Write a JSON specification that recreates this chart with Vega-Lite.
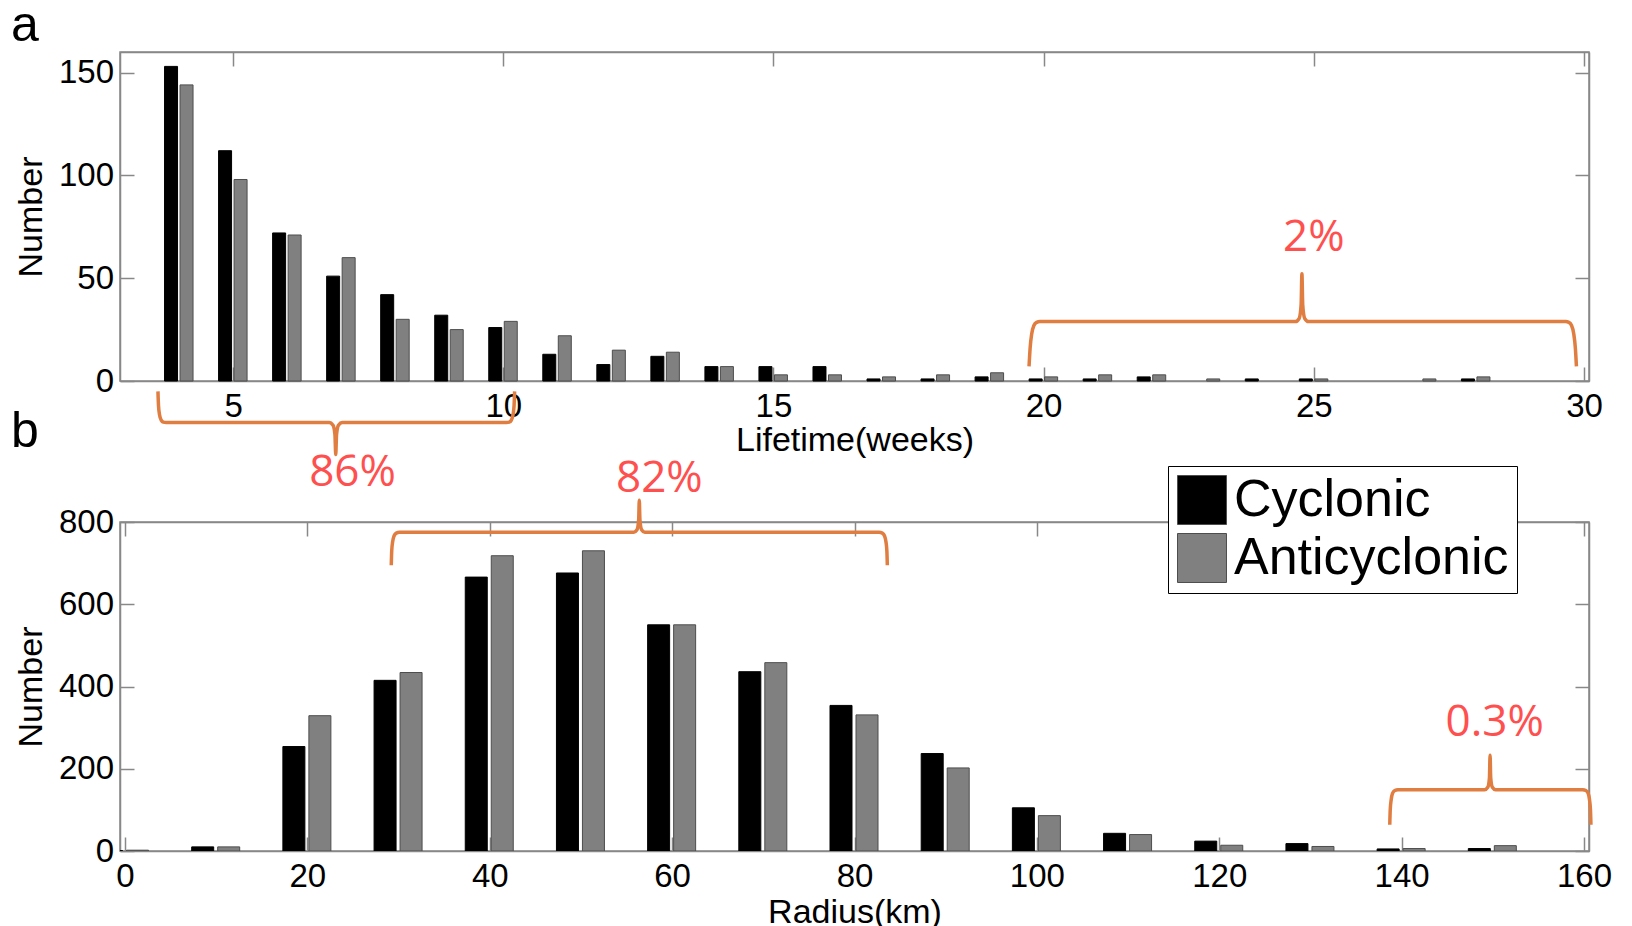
{
  "$schema": "https://vega.github.io/schema/vega-lite/v6.json",
  "padding": {"left": 10, "top": 0, "right": 5, "bottom": 5},
  "background": "white",
  "config": {
    "font": "Liberation Sans",
    "view": {"stroke": "#888888", "strokeWidth": 1.5},
    "axis": {
      "domainColor": "#888888", "domainWidth": 1.5, "tickColor": "#888888", "tickWidth": 1.5,
      "tickSize": -14, "labelColor": "#000000", "titleColor": "#000000",
      "labelFontSize": 33, "titleFontSize": 34, "titleFontWeight": "normal",
      "grid": false, "labelFlush": false, "labelOverlap": false
    },
    "axisX": {"labelPadding": 23.5, "titlePadding": 1},
    "axisY": {"labelPadding": 20.5, "titlePadding": 9.5},
    "title": {"fontSize": 50, "fontWeight": "normal", "anchor": "start", "color": "#000000", "font": "Liberation Sans"}
  },
  "datasets": {
    "lifetime": [
      {"week": 4, "type": "Cyclonic", "n": 153}, {"week": 4, "type": "Anticyclonic", "n": 144},
      {"week": 5, "type": "Cyclonic", "n": 112}, {"week": 5, "type": "Anticyclonic", "n": 98},
      {"week": 6, "type": "Cyclonic", "n": 72}, {"week": 6, "type": "Anticyclonic", "n": 71},
      {"week": 7, "type": "Cyclonic", "n": 51}, {"week": 7, "type": "Anticyclonic", "n": 60},
      {"week": 8, "type": "Cyclonic", "n": 42}, {"week": 8, "type": "Anticyclonic", "n": 30},
      {"week": 9, "type": "Cyclonic", "n": 32}, {"week": 9, "type": "Anticyclonic", "n": 25},
      {"week": 10, "type": "Cyclonic", "n": 26}, {"week": 10, "type": "Anticyclonic", "n": 29},
      {"week": 11, "type": "Cyclonic", "n": 13}, {"week": 11, "type": "Anticyclonic", "n": 22},
      {"week": 12, "type": "Cyclonic", "n": 8}, {"week": 12, "type": "Anticyclonic", "n": 15},
      {"week": 13, "type": "Cyclonic", "n": 12}, {"week": 13, "type": "Anticyclonic", "n": 14},
      {"week": 14, "type": "Cyclonic", "n": 7}, {"week": 14, "type": "Anticyclonic", "n": 7},
      {"week": 15, "type": "Cyclonic", "n": 7}, {"week": 15, "type": "Anticyclonic", "n": 3},
      {"week": 16, "type": "Cyclonic", "n": 7}, {"week": 16, "type": "Anticyclonic", "n": 3},
      {"week": 17, "type": "Cyclonic", "n": 1}, {"week": 17, "type": "Anticyclonic", "n": 2},
      {"week": 18, "type": "Cyclonic", "n": 1}, {"week": 18, "type": "Anticyclonic", "n": 3},
      {"week": 19, "type": "Cyclonic", "n": 2}, {"week": 19, "type": "Anticyclonic", "n": 4},
      {"week": 20, "type": "Cyclonic", "n": 1}, {"week": 20, "type": "Anticyclonic", "n": 2},
      {"week": 21, "type": "Cyclonic", "n": 1}, {"week": 21, "type": "Anticyclonic", "n": 3},
      {"week": 22, "type": "Cyclonic", "n": 2}, {"week": 22, "type": "Anticyclonic", "n": 3},
      {"week": 23, "type": "Anticyclonic", "n": 1},
      {"week": 24, "type": "Cyclonic", "n": 1},
      {"week": 25, "type": "Cyclonic", "n": 1}, {"week": 25, "type": "Anticyclonic", "n": 1},
      {"week": 27, "type": "Anticyclonic", "n": 1},
      {"week": 28, "type": "Cyclonic", "n": 1}, {"week": 28, "type": "Anticyclonic", "n": 2}
    ],
    "radius": [
      {"r": 0, "type": "Cyclonic", "n": 1}, {"r": 0, "type": "Anticyclonic", "n": 2},
      {"r": 10, "type": "Cyclonic", "n": 10}, {"r": 10, "type": "Anticyclonic", "n": 10},
      {"r": 20, "type": "Cyclonic", "n": 254}, {"r": 20, "type": "Anticyclonic", "n": 329},
      {"r": 30, "type": "Cyclonic", "n": 415}, {"r": 30, "type": "Anticyclonic", "n": 434},
      {"r": 40, "type": "Cyclonic", "n": 666}, {"r": 40, "type": "Anticyclonic", "n": 718},
      {"r": 50, "type": "Cyclonic", "n": 676}, {"r": 50, "type": "Anticyclonic", "n": 730},
      {"r": 60, "type": "Cyclonic", "n": 550}, {"r": 60, "type": "Anticyclonic", "n": 550},
      {"r": 70, "type": "Cyclonic", "n": 436}, {"r": 70, "type": "Anticyclonic", "n": 458},
      {"r": 80, "type": "Cyclonic", "n": 354}, {"r": 80, "type": "Anticyclonic", "n": 331},
      {"r": 90, "type": "Cyclonic", "n": 237}, {"r": 90, "type": "Anticyclonic", "n": 202},
      {"r": 100, "type": "Cyclonic", "n": 105}, {"r": 100, "type": "Anticyclonic", "n": 86},
      {"r": 110, "type": "Cyclonic", "n": 43}, {"r": 110, "type": "Anticyclonic", "n": 40},
      {"r": 120, "type": "Cyclonic", "n": 24}, {"r": 120, "type": "Anticyclonic", "n": 14},
      {"r": 130, "type": "Cyclonic", "n": 18}, {"r": 130, "type": "Anticyclonic", "n": 11},
      {"r": 140, "type": "Cyclonic", "n": 5}, {"r": 140, "type": "Anticyclonic", "n": 6},
      {"r": 150, "type": "Cyclonic", "n": 6}, {"r": 150, "type": "Anticyclonic", "n": 13}
    ],
    "bracesA": [
      {"b": "top", "i": 1, "x": 19.73, "y": 7.1},
      {"b": "top", "i": 2, "x": 19.75, "y": 16},
      {"b": "top", "i": 3, "x": 19.78, "y": 23},
      {"b": "top", "i": 4, "x": 19.82, "y": 27},
      {"b": "top", "i": 5, "x": 19.87, "y": 28.5},
      {"b": "top", "i": 6, "x": 19.93, "y": 28.9},
      {"b": "top", "i": 7, "x": 24.66, "y": 28.9},
      {"b": "top", "i": 8, "x": 24.73, "y": 30.5},
      {"b": "top", "i": 9, "x": 24.765, "y": 37},
      {"b": "top", "i": 10, "x": 24.78, "y": 52.2},
      {"b": "top", "i": 11, "x": 24.795, "y": 37},
      {"b": "top", "i": 12, "x": 24.83, "y": 30.5},
      {"b": "top", "i": 13, "x": 24.9, "y": 28.9},
      {"b": "top", "i": 14, "x": 29.66, "y": 28.9},
      {"b": "top", "i": 15, "x": 29.72, "y": 28.5},
      {"b": "top", "i": 16, "x": 29.77, "y": 27},
      {"b": "top", "i": 17, "x": 29.81, "y": 23},
      {"b": "top", "i": 18, "x": 29.84, "y": 16},
      {"b": "top", "i": 19, "x": 29.86, "y": 7.1},
      {"b": "bottom", "i": 1, "x": 3.61, "y": -5.07},
      {"b": "bottom", "i": 2, "x": 3.62, "y": -12},
      {"b": "bottom", "i": 3, "x": 3.64, "y": -16.5},
      {"b": "bottom", "i": 4, "x": 3.67, "y": -19},
      {"b": "bottom", "i": 5, "x": 3.71, "y": -20},
      {"b": "bottom", "i": 6, "x": 3.76, "y": -20.2},
      {"b": "bottom", "i": 7, "x": 6.78, "y": -20.2},
      {"b": "bottom", "i": 8, "x": 6.85, "y": -21.5},
      {"b": "bottom", "i": 9, "x": 6.885, "y": -26},
      {"b": "bottom", "i": 10, "x": 6.9, "y": -35.8},
      {"b": "bottom", "i": 11, "x": 6.915, "y": -26},
      {"b": "bottom", "i": 12, "x": 6.95, "y": -21.5},
      {"b": "bottom", "i": 13, "x": 7.02, "y": -20.2},
      {"b": "bottom", "i": 14, "x": 10.06, "y": -20.2},
      {"b": "bottom", "i": 15, "x": 10.11, "y": -20},
      {"b": "bottom", "i": 16, "x": 10.15, "y": -19},
      {"b": "bottom", "i": 17, "x": 10.18, "y": -16.5},
      {"b": "bottom", "i": 18, "x": 10.2, "y": -12},
      {"b": "bottom", "i": 19, "x": 10.21, "y": -5.07}
    ],
    "bracesB": [
      {"b": "mid", "i": 1, "x": 29.2, "y": 695},
      {"b": "mid", "i": 2, "x": 29.25, "y": 730},
      {"b": "mid", "i": 3, "x": 29.35, "y": 752},
      {"b": "mid", "i": 4, "x": 29.5, "y": 766},
      {"b": "mid", "i": 5, "x": 29.75, "y": 773},
      {"b": "mid", "i": 6, "x": 30.1, "y": 775},
      {"b": "mid", "i": 7, "x": 55.8, "y": 775},
      {"b": "mid", "i": 8, "x": 56.15, "y": 781},
      {"b": "mid", "i": 9, "x": 56.33, "y": 805},
      {"b": "mid", "i": 10, "x": 56.4, "y": 853},
      {"b": "mid", "i": 11, "x": 56.47, "y": 805},
      {"b": "mid", "i": 12, "x": 56.65, "y": 781},
      {"b": "mid", "i": 13, "x": 57.0, "y": 775},
      {"b": "mid", "i": 14, "x": 82.7, "y": 775},
      {"b": "mid", "i": 15, "x": 83.05, "y": 773},
      {"b": "mid", "i": 16, "x": 83.3, "y": 766},
      {"b": "mid", "i": 17, "x": 83.45, "y": 752},
      {"b": "mid", "i": 18, "x": 83.55, "y": 730},
      {"b": "mid", "i": 19, "x": 83.6, "y": 695},
      {"b": "right", "i": 1, "x": 138.7, "y": 64},
      {"b": "right", "i": 2, "x": 138.75, "y": 100},
      {"b": "right", "i": 3, "x": 138.85, "y": 124},
      {"b": "right", "i": 4, "x": 139.0, "y": 140},
      {"b": "right", "i": 5, "x": 139.25, "y": 147},
      {"b": "right", "i": 6, "x": 139.6, "y": 149},
      {"b": "right", "i": 7, "x": 149.1, "y": 149},
      {"b": "right", "i": 8, "x": 149.45, "y": 155},
      {"b": "right", "i": 9, "x": 149.63, "y": 178},
      {"b": "right", "i": 10, "x": 149.7, "y": 233},
      {"b": "right", "i": 11, "x": 149.77, "y": 178},
      {"b": "right", "i": 12, "x": 149.95, "y": 155},
      {"b": "right", "i": 13, "x": 150.3, "y": 149},
      {"b": "right", "i": 14, "x": 159.86, "y": 149},
      {"b": "right", "i": 15, "x": 160.21, "y": 147},
      {"b": "right", "i": 16, "x": 160.46, "y": 140},
      {"b": "right", "i": 17, "x": 160.61, "y": 124},
      {"b": "right", "i": 18, "x": 160.71, "y": 100},
      {"b": "right", "i": 19, "x": 160.76, "y": 64}
    ],
    "textA": [
      {"x": 25.0, "y": 69.4, "label": "2%"},
      {"x": 7.21, "y": -44.9, "label": "86%"}
    ],
    "textB": [
      {"x": 58.6, "y": 904, "label": "82%"},
      {"x": 150.2, "y": 312, "label": "0.3%"}
    ]
  },
  "vconcat": [
    {
      "width": 1469,
      "height": 329,
      "title": {"text": "a", "frame": "group", "dx": -109, "offset": 0},
      "layer": [
        {
          "data": {"name": "lifetime"},
          "transform": [{"filter": "datum.type === 'Cyclonic'"}],
          "mark": {"type": "bar", "width": 13, "xOffset": -8, "stroke": "#000000", "strokeWidth": 1},
          "encoding": {
            "x": {"field": "week", "type": "quantitative", "scale": {"domain": [3, 30], "nice": false},
                  "axis": {"title": "Lifetime(weeks)", "values": [5, 10, 15, 20, 25, 30], "orient": "bottom", "titlePadding": 0}},
            "y": {"field": "n", "type": "quantitative", "scale": {"domain": [0, 160], "nice": false},
                  "axis": {"title": "Number", "values": [0, 50, 100, 150], "orient": "left"}},
            "color": {"field": "type", "type": "nominal",
                      "scale": {"domain": ["Cyclonic", "Anticyclonic"], "range": ["#000000", "#808080"]}, "legend": null}
          }
        },
        {
          "data": {"name": "lifetime"},
          "transform": [{"filter": "datum.type === 'Anticyclonic'"}],
          "mark": {"type": "bar", "width": 13, "xOffset": 7.5, "stroke": "#4d4d4d", "strokeWidth": 1},
          "encoding": {
            "x": {"field": "week", "type": "quantitative", "axis": null},
            "y": {"field": "n", "type": "quantitative", "axis": null},
            "color": {"field": "type", "type": "nominal", "legend": null}
          }
        },
        {
          "data": {"name": "bracesA"},
          "mark": {"type": "line", "color": "#e07d40", "strokeWidth": 3.5, "interpolate": "monotone", "clip": false},
          "encoding": {
            "x": {"field": "x", "type": "quantitative",
                  "axis": {"orient": "top", "labels": false, "title": null, "values": [5, 10, 15, 20, 25, 30]}},
            "y": {"field": "y", "type": "quantitative",
                  "axis": {"orient": "right", "labels": false, "title": null, "values": [0, 50, 100, 150]}},
            "detail": {"field": "b", "type": "nominal"},
            "order": {"field": "i", "type": "quantitative"}
          }
        },
        {
          "data": {"name": "textA"},
          "mark": {"type": "text", "color": "#ff5050", "font": "Open Sans", "fontSize": 44, "baseline": "middle", "align": "center", "clip": false},
          "encoding": {
            "x": {"field": "x", "type": "quantitative", "axis": null},
            "y": {"field": "y", "type": "quantitative", "axis": null},
            "text": {"field": "label", "type": "nominal"}
          }
        }
      ],
      "resolve": {"axis": {"x": "independent", "y": "independent"}}
    },
    {
      "width": 1469,
      "height": 329,
      "title": {"text": "b", "frame": "group", "dx": -109, "offset": 0},
      "layer": [
        {
          "data": {"name": "radius"},
          "transform": [{"filter": "datum.type === 'Cyclonic'"}],
          "mark": {"type": "bar", "width": 22, "xOffset": -13.5, "stroke": "#000000", "strokeWidth": 1, "clip": true},
          "encoding": {
            "x": {"field": "r", "type": "quantitative", "scale": {"domain": [0, 160], "nice": false},
                  "axis": {"title": "Radius(km)", "values": [0, 20, 40, 60, 80, 100, 120, 140, 160], "orient": "bottom", "titlePadding": 2}},
            "y": {"field": "n", "type": "quantitative", "scale": {"domain": [0, 800], "nice": false},
                  "axis": {"title": "Number", "values": [0, 200, 400, 600, 800], "orient": "left"}},
            "color": {"field": "type", "type": "nominal",
                      "scale": {"domain": ["Cyclonic", "Anticyclonic"], "range": ["#000000", "#808080"]},
                      "legend": {"orient": "none", "legendX": 1048, "legendY": -56, "title": null,
                                 "symbolType": "square", "symbolSize": 2400, "labelFontSize": 52,
                                 "labelFont": "Liberation Sans", "labelColor": "#000000", "labelLimit": 500,
                                 "strokeColor": "#000000", "fillColor": "#ffffff", "padding": 8,
                                 "rowPadding": 4, "labelOffset": 6, "symbolStrokeColor": "#333333",
                                 "symbolStrokeWidth": 1, "symbolOpacity": 1}}
          }
        },
        {
          "data": {"name": "radius"},
          "transform": [{"filter": "datum.type === 'Anticyclonic'"}],
          "mark": {"type": "bar", "width": 22, "xOffset": 12.5, "stroke": "#4d4d4d", "strokeWidth": 1, "clip": true},
          "encoding": {
            "x": {"field": "r", "type": "quantitative", "axis": null},
            "y": {"field": "n", "type": "quantitative", "axis": null},
            "color": {"field": "type", "type": "nominal"}
          }
        },
        {
          "data": {"name": "bracesB"},
          "mark": {"type": "line", "color": "#e07d40", "strokeWidth": 3.5, "interpolate": "monotone", "clip": false},
          "encoding": {
            "x": {"field": "x", "type": "quantitative",
                  "axis": {"orient": "top", "labels": false, "title": null, "values": [0, 20, 40, 60, 80, 100, 120, 140, 160]}},
            "y": {"field": "y", "type": "quantitative",
                  "axis": {"orient": "right", "labels": false, "title": null, "values": [0, 200, 400, 600, 800]}},
            "detail": {"field": "b", "type": "nominal"},
            "order": {"field": "i", "type": "quantitative"}
          }
        },
        {
          "data": {"name": "textB"},
          "mark": {"type": "text", "color": "#ff5050", "font": "Open Sans", "fontSize": 44, "baseline": "middle", "align": "center", "clip": false},
          "encoding": {
            "x": {"field": "x", "type": "quantitative", "axis": null},
            "y": {"field": "y", "type": "quantitative", "axis": null},
            "text": {"field": "label", "type": "nominal"}
          }
        }
      ],
      "resolve": {"axis": {"x": "independent", "y": "independent"}}
    }
  ],
  "spacing": 141,
  "bounds": "flush",
  "resolve": {"scale": {"color": "independent"}, "legend": {"color": "independent"}}
}
